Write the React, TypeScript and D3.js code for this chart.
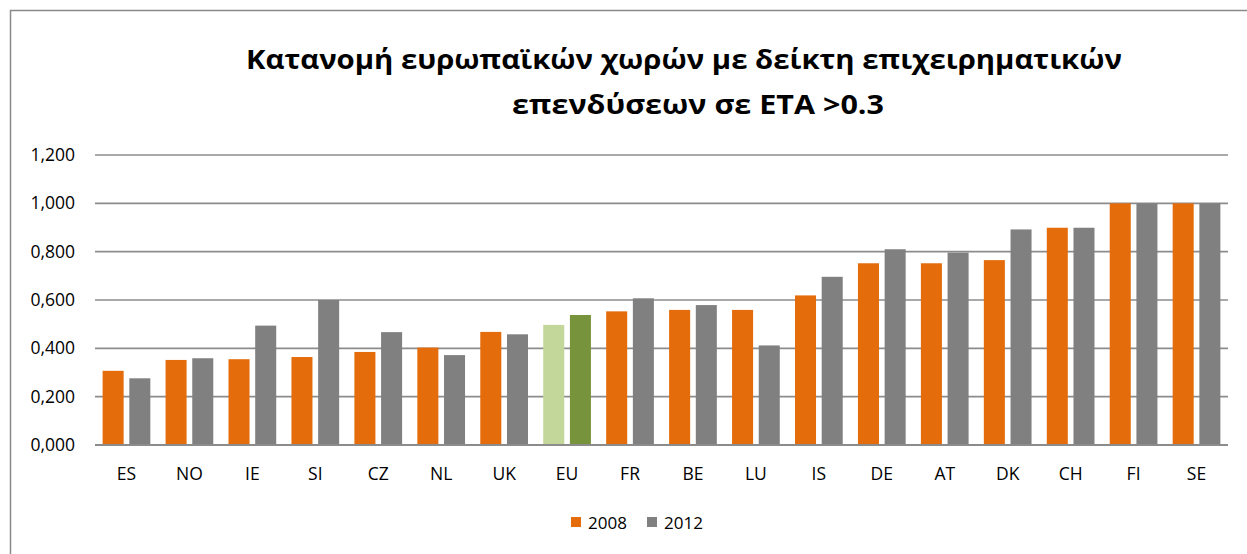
import React from "react";
import * as d3 from "d3";

const categories = ["ES","NO","IE","SI","CZ","NL","UK","EU","FR","BE","LU","IS","DE","AT","DK","CH","FI","SE"];
const values2008 = [0.307,0.352,0.355,0.364,0.385,0.403,0.468,0.497,0.553,0.559,0.559,0.619,0.752,0.752,0.765,0.899,1.0,1.0];
const values2012 = [0.276,0.359,0.494,0.600,0.467,0.372,0.458,0.538,0.607,0.579,0.412,0.696,0.810,0.796,0.892,0.899,1.0,1.0];
const yTicks = [0,0.2,0.4,0.6,0.8,1.0,1.2];
const seriesNames = ["2008","2012"];
const titleLines = ["Κατανομή ευρωπαϊκών χωρών με δείκτη επιχειρηματικών","επενδύσεων σε ΕΤΑ >0.3"];

const W = 1247, H = 554;
const M = { left: 95, right: 1228, top: 155, bottom: 445 };
const ORANGE = "#E46C0A", GRAY = "#808080", EU1 = "#C4D79B", EU2 = "#77933C";
const FONT = "'Open Sans', 'Noto Sans', sans-serif";

export default function App() {
  const x = d3.scaleBand<string>().domain(categories).range([M.left, M.right]).paddingInner(0).paddingOuter(0);
  const y = d3.scaleLinear().domain([0, 1.2]).range([M.bottom, M.top]);
  const bw = x.bandwidth();
  const barW = bw * 0.334;
  const gap = bw * 0.09;
  const fmt = (v: number) => d3.format(".3f")(v).replace(".", ",");
  const titleX = [246, 512];
  const titleLen = [876, 372];

  return (
    <svg width={W} height={H} style={{ position: "absolute", left: 0, top: 0, background: "#fff" }} fontFamily={FONT}>
      <rect x={10.5} y={10.5} width={W} height={H} fill="#fff" stroke="#8a8a8a" strokeWidth={1.5} />
      {titleLines.map((t, i) => (
        <text key={i} x={titleX[i]} y={69 + i * 45} textLength={titleLen[i]} lengthAdjust="spacingAndGlyphs" fontSize={27.5} fontWeight="bold" fill="#000">{t}</text>
      ))}
      {yTicks.map((t) => (
        <g key={t}>
          <line x1={M.left} x2={M.right} y1={y(t)} y2={y(t)} stroke="#8c8c8c" strokeWidth={1.6} />
          <text x={75} y={y(t) + 6} textAnchor="end" fontSize={17.5} fill="#000">{fmt(t)}</text>
        </g>
      ))}
      {categories.map((c, i) => {
        const cx = (x(c) as number) + bw / 2;
        const isEU = c === "EU";
        return (
          <g key={c}>
            <rect x={cx - gap / 2 - barW} y={y(values2008[i])} width={barW} height={y(0) - y(values2008[i])} fill={isEU ? EU1 : ORANGE} />
            <rect x={cx + gap / 2} y={y(values2012[i])} width={barW} height={y(0) - y(values2012[i])} fill={isEU ? EU2 : GRAY} />
            <text x={cx} y={480} textAnchor="middle" fontSize={17.5} fill="#000">{c}</text>
          </g>
        );
      })}
      <line x1={M.left} x2={M.right} y1={y(0)} y2={y(0)} stroke="#8c8c8c" strokeWidth={1.8} />
      {seriesNames.map((s, i) => (
        <g key={s} transform={`translate(${571 + i * 76},0)`}>
          <rect x={0} y={517} width={10} height={10} fill={i === 0 ? ORANGE : GRAY} />
          <text x={17} y={529} fontSize={17} fill="#000">{s}</text>
        </g>
      ))}
    </svg>
  );
}
